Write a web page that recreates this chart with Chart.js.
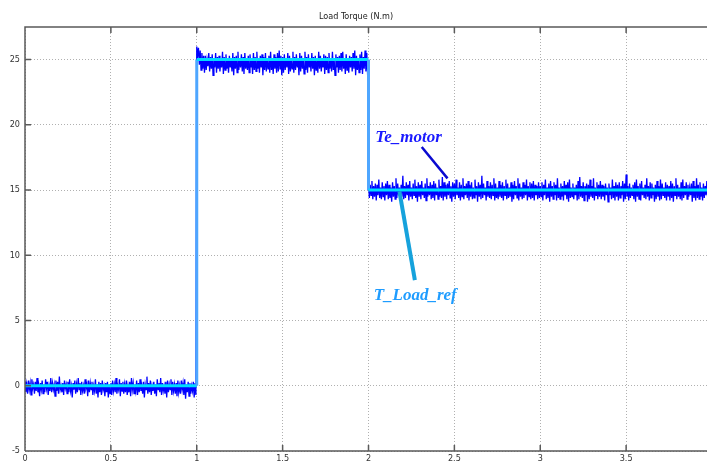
<!DOCTYPE html>
<html lang="en">
<head>
    <meta charset="UTF-8">
    <title>Load Torque (N.m)</title>
    <script src="https://cdn.jsdelivr.net/npm/chart.js"></script>
    <style>
        body {
            margin: 0;
            background: #fff;
            overflow: hidden;
        }
        .chart-box {
            width: 712px;
            height: 462px;
        }
    </style>
</head>
<body>
    <div class="chart-box">
        <canvas id="torqueChart"></canvas>
    </div>

    <script>
        // sample step of the simulation trace (s)
        const sampleStep = 0.005;

        // Te_motor, 0 .. 1 s (no load)
        const teNoLoad = [
            0.3,-0.5,0.1,-0.6,0.4,-0.3,0.2,-0.7,0.5,-0.2,
            0.1,-0.6,0.3,-0.4,0.6,-0.5,0.0,-0.8,0.2,-0.3,
            0.4,-0.6,0.1,-0.5,0.5,-0.2,0.3,-0.7,0.0,-0.4,
            0.6,-0.5,0.2,-0.3,0.1,-0.8,0.4,-0.4,0.3,-0.6,
            0.7,-0.3,0.0,-0.5,0.2,-0.7,0.4,-0.2,0.1,-0.6,
            0.3,-0.5,0.5,-0.4,0.0,-0.9,0.2,-0.3,0.4,-0.6,
            0.1,-0.5,0.6,-0.3,0.2,-0.7,0.3,-0.4,0.0,-0.6,
            0.5,-0.2,0.1,-0.8,0.4,-0.5,0.2,-0.3,0.3,-0.7,
            0.0,-0.4,0.5,-0.6,0.1,-0.9,0.3,-0.5,0.2,-0.7,
            0.4,-0.3,0.0,-0.8,0.2,-0.5,0.3,-0.9,0.1,-0.6,
            0.2,-0.7,0.4,-0.4,0.1,-0.5,0.6,-0.6,0.0,-0.3,
            0.5,-0.8,0.2,-0.4,0.3,-0.6,0.1,-0.5,0.4,-0.7,
            0.0,-0.5,0.3,-0.8,0.6,-0.3,0.2,-0.6,0.1,-0.4,
            0.4,-0.7,0.2,-0.5,0.5,-0.4,0.0,-0.6,0.3,-0.9,
            0.1,-0.3,0.7,-0.6,0.2,-0.5,0.4,-0.7,0.0,-0.4,
            0.3,-0.6,0.1,-0.8,0.5,-0.3,0.2,-0.5,0.6,-0.7,
            0.2,-0.4,0.0,-0.6,0.3,-0.9,0.4,-0.5,0.1,-0.3,
            0.5,-0.7,0.3,-0.4,0.1,-0.6,0.2,-0.8,0.4,-0.5,
            0.0,-0.6,0.4,-0.3,0.2,-0.7,0.5,-1.0,0.1,-0.5,
            0.3,-0.8,0.2,-0.6,0.0,-0.4,0.3,-0.9,0.2,-0.7
        ];
        // Te_motor, 1 .. 2 s (25 N.m load)
        const teFullLoad = [
            26.0,25.3,25.9,24.6,25.7,24.2,25.5,24.3,25.3,24.0,
            25.3,24.2,25.0,24.5,25.5,24.1,25.2,24.3,25.4,23.8,
            25.1,24.4,25.5,24.0,25.2,24.3,25.3,24.1,25.0,24.4,
            25.6,23.9,25.2,24.2,25.4,24.3,25.1,24.0,25.3,24.4,
            25.0,24.1,25.5,23.8,25.2,24.3,25.3,24.0,25.6,24.2,
            25.1,24.4,25.4,24.1,25.2,23.9,25.5,24.3,25.0,24.2,
            25.3,24.0,25.4,24.4,25.1,23.9,25.5,24.2,25.2,24.1,
            25.6,24.3,25.0,24.0,25.3,24.4,25.4,23.8,25.2,24.2,
            25.5,24.1,25.1,24.3,25.3,24.0,25.6,24.2,25.0,23.9,
            25.4,24.3,25.2,24.0,25.5,24.1,25.7,24.3,25.3,23.8,
            25.2,24.0,25.4,24.2,25.1,24.4,25.5,23.9,25.3,24.1,
            25.0,24.3,25.6,24.0,25.2,24.2,25.4,24.4,25.1,23.8,
            25.5,24.1,25.3,24.3,25.0,23.9,25.6,24.2,25.2,24.0,
            25.4,24.4,25.1,24.1,25.5,24.3,25.2,23.8,25.3,24.2,
            25.1,24.0,25.6,24.3,25.3,24.1,25.0,24.4,25.4,23.9,
            25.3,24.2,25.2,24.0,25.5,24.3,25.1,24.1,25.6,24.2,
            25.0,23.8,25.4,24.4,25.2,24.0,25.3,24.2,25.5,24.1,
            25.6,24.3,25.1,23.9,25.4,24.2,25.0,24.0,25.3,24.4,
            25.2,24.1,25.5,24.3,25.7,23.8,25.3,24.2,25.1,24.0,
            25.4,24.2,25.6,23.9,25.2,24.3,25.7,24.1,25.5,23.8
        ];
        // Te_motor, 2 .. 4 s (15 N.m load)
        const tePartLoad = [
            15.6,14.4,15.4,14.6,15.7,14.3,15.3,14.5,15.5,14.2,
            15.4,14.6,15.8,14.4,15.2,14.3,15.6,14.5,15.3,14.2,
            15.5,14.6,15.7,14.3,15.4,14.4,15.2,14.1,15.6,14.5,
            15.3,14.3,15.9,14.4,15.5,14.6,15.2,14.2,15.4,14.5,
            16.1,14.3,15.3,14.4,15.6,14.6,15.4,14.2,15.7,14.5,
            15.2,14.3,15.5,14.6,15.8,14.4,15.3,14.1,15.6,14.5,
            15.4,14.3,15.7,14.6,15.2,14.4,15.5,14.2,15.9,14.5,
            15.3,14.6,15.6,14.3,15.4,14.4,15.7,14.2,15.5,14.6,
            15.2,14.3,15.8,14.5,15.3,14.4,16.0,14.2,15.6,14.5,
            15.4,14.3,15.5,14.6,15.7,14.4,15.3,14.1,15.6,14.5,
            15.5,14.3,15.8,14.6,15.2,14.4,15.6,14.2,15.4,14.5,
            15.9,14.3,15.3,14.6,15.5,14.4,15.7,14.2,15.4,14.5,
            15.6,14.3,15.2,14.4,15.8,14.6,15.3,14.1,15.6,14.5,
            15.4,14.3,16.1,14.4,15.5,14.6,15.2,14.2,15.7,14.5,
            15.3,14.4,15.6,14.3,15.4,14.6,15.9,14.2,15.5,14.4,
            15.2,14.3,15.7,14.5,15.4,14.4,15.6,14.2,15.3,14.6,
            15.8,14.3,15.5,14.4,15.2,14.5,15.6,14.1,15.4,14.3,
            15.7,14.6,15.3,14.4,15.9,14.2,15.5,14.5,15.2,14.3,
            15.6,14.4,15.4,14.6,15.8,14.2,15.3,14.5,15.6,14.3,
            15.5,14.4,15.7,14.2,15.4,14.6,15.3,14.3,15.6,14.4,
            15.3,14.5,15.6,14.2,15.4,14.6,15.8,14.3,15.2,14.4,
            15.5,14.1,15.7,14.5,15.3,14.3,15.6,14.6,15.4,14.2,
            15.9,14.4,15.2,14.3,15.5,14.5,15.3,14.2,15.7,14.6,
            15.4,14.3,15.6,14.1,15.8,14.4,15.2,14.5,15.5,14.3,
            15.2,14.6,15.4,14.2,15.7,14.3,16.0,14.5,15.3,14.4,
            15.6,14.2,15.3,14.6,15.5,14.1,15.4,14.3,15.8,14.5,
            15.3,14.4,15.9,14.2,15.2,14.6,15.6,14.3,15.4,14.5,
            15.7,14.3,15.4,14.5,15.3,14.2,15.5,14.6,15.2,14.1,
            15.5,14.6,15.2,14.3,15.8,14.4,15.3,14.2,15.6,14.5,
            15.4,14.2,15.6,14.4,15.3,14.6,15.7,14.1,15.5,14.3,
            16.2,14.5,15.3,14.2,15.5,14.4,15.2,14.6,15.4,14.3,
            15.6,14.1,15.8,14.5,15.3,14.3,15.5,14.2,15.7,14.6,
            15.2,14.4,15.4,14.3,15.9,14.5,15.3,14.2,15.6,14.4,
            15.5,14.6,15.2,14.1,15.4,14.3,15.7,14.5,15.3,14.2,
            15.8,14.3,15.5,14.6,15.2,14.4,15.6,14.2,15.4,14.5,
            15.3,14.2,15.7,14.4,15.5,14.1,15.3,14.6,15.9,14.3,
            15.4,14.5,15.2,14.3,15.6,14.2,15.8,14.4,15.3,14.6,
            15.6,14.3,15.4,14.5,15.2,14.6,15.5,14.1,15.7,14.4,
            15.3,14.2,15.9,14.4,15.4,14.3,15.6,14.5,15.2,14.2,
            15.5,14.4,15.3,14.6,15.7,14.3,15.4,14.2,15.6,14.5
        ];
        const segmentStarts = [0, 1, 2];

        // T_Load_ref step profile
        const refTimes = [0, 1, 1, 2, 2, 4];
        const refValues = [0, 0, 25, 25, 15, 15];

        const yTicks = [-5, 0, 5, 10, 15, 20, 25];
        const xTicks = [0, 0.5, 1, 1.5, 2, 2.5, 3, 3.5];

        function buildTrace() {
            const points = [];
            [teNoLoad, teFullLoad, tePartLoad].forEach((seg, s) => {
                seg.forEach((v, i) => {
                    points.push({ x: segmentStarts[s] + i * sampleStep, y: v });
                });
            });
            return points;
        }

        const refPoints = refTimes.map((t, i) => ({ x: t, y: refValues[i] }));

        // labels and pointer lines, in data units
        const notes = [
            { text: 'Te_motor', x: 2.04, y: 18.7, color: '#1a1aff',
              line: [2.31, 18.3, 2.46, 15.9], lineColor: '#0a0ad0', lineWidth: 2.5 },
            { text: 'T_Load_ref', x: 2.03, y: 6.6, color: '#1e9cff',
              line: [2.18, 14.9, 2.27, 8.1], lineColor: '#16a2dc', lineWidth: 4 }
        ];

        const axisColor = '#5a5a5a';
        const smallFont = "'Liberation Sans Narrow', 'DejaVu Sans Condensed', sans-serif";

        const frameAndNotes = {
            id: 'frameAndNotes',
            afterDatasetsDraw(chart) {
                const ctx = chart.ctx;
                const xs = chart.scales.x;
                const ys = chart.scales.y;
                ctx.save();
                notes.forEach(n => {
                    ctx.strokeStyle = n.lineColor;
                    ctx.lineWidth = n.lineWidth;
                    ctx.beginPath();
                    ctx.moveTo(xs.getPixelForValue(n.line[0]), ys.getPixelForValue(n.line[1]));
                    ctx.lineTo(xs.getPixelForValue(n.line[2]), ys.getPixelForValue(n.line[3]));
                    ctx.stroke();
                    ctx.fillStyle = n.color;
                    ctx.font = "italic bold 17px 'Liberation Serif', 'DejaVu Serif', serif";
                    ctx.textBaseline = 'alphabetic';
                    ctx.fillText(n.text, xs.getPixelForValue(n.x), ys.getPixelForValue(n.y));
                });
                ctx.restore();
            },
            afterDraw(chart) {
                const ctx = chart.ctx;
                const a = chart.chartArea;
                const xs = chart.scales.x;
                const ys = chart.scales.y;
                ctx.save();
                ctx.strokeStyle = axisColor;
                ctx.lineWidth = 1.5;
                ctx.beginPath();
                ctx.moveTo(a.left, a.bottom);
                ctx.lineTo(a.left, a.top);
                ctx.lineTo(a.right, a.top);
                ctx.moveTo(a.left, a.bottom);
                ctx.lineTo(a.right, a.bottom);
                // inward ticks
                xTicks.forEach(t => {
                    const px = xs.getPixelForValue(t);
                    ctx.moveTo(px, a.bottom);
                    ctx.lineTo(px, a.bottom - 6);
                    ctx.moveTo(px, a.top);
                    ctx.lineTo(px, a.top + 6);
                });
                yTicks.forEach(v => {
                    const py = ys.getPixelForValue(v);
                    ctx.moveTo(a.left, py);
                    ctx.lineTo(a.left + 6, py);
                });
                ctx.stroke();
                ctx.restore();
            }
        };

        new Chart(document.getElementById('torqueChart'), {
            type: 'line',
            data: {
                datasets: [
                    {
                        label: 'T_Load_ref',
                        data: refPoints,
                        borderColor: '#00dcff',
                        borderWidth: 3,
                        pointRadius: 0,
                        tension: 0,
                        segment: {
                            borderColor: c => c.p0.parsed.x === c.p1.parsed.x ? '#4ea6ff' : undefined
                        }
                    },
                    {
                        label: 'Te_motor',
                        data: buildTrace(),
                        borderColor: '#0000ff',
                        borderWidth: 1.3,
                        pointRadius: 0,
                        tension: 0
                    }
                ]
            },
            options: {
                responsive: true,
                maintainAspectRatio: false,
                animation: false,
                events: [],
                plugins: {
                    legend: { display: false },
                    tooltip: { enabled: false },
                    title: {
                        display: true,
                        text: 'Load Torque (N.m)',
                        color: '#222',
                        font: { family: smallFont, size: 9, weight: 'normal' },
                        padding: { top: 11, bottom: 5.2 }
                    }
                },
                scales: {
                    x: {
                        type: 'linear',
                        min: 0,
                        max: 4,
                        afterBuildTicks: s => { s.ticks = xTicks.map(v => ({ value: v })); },
                        afterFit: s => { s.height = 11; },
                        grid: { color: '#b0b0b0', lineWidth: 1, drawTicks: false },
                        border: { display: false, dash: [1, 2] },
                        ticks: {
                            padding: 2,
                            color: '#333',
                            font: { family: smallFont, size: 9 },
                            maxRotation: 0,
                            autoSkip: false,
                            callback: v => String(v)
                        }
                    },
                    y: {
                        min: -5,
                        max: 27.5,
                        afterBuildTicks: s => { s.ticks = yTicks.map(v => ({ value: v })); },
                        afterFit: s => { s.width = 25; },
                        grid: { color: '#b0b0b0', lineWidth: 1, drawTicks: false },
                        border: { display: false, dash: [1, 2] },
                        ticks: {
                            padding: 5,
                            color: '#333',
                            font: { family: smallFont, size: 9 },
                            callback: v => String(v)
                        }
                    }
                }
            },
            plugins: [frameAndNotes]
        });
    </script>
</body>
</html>
